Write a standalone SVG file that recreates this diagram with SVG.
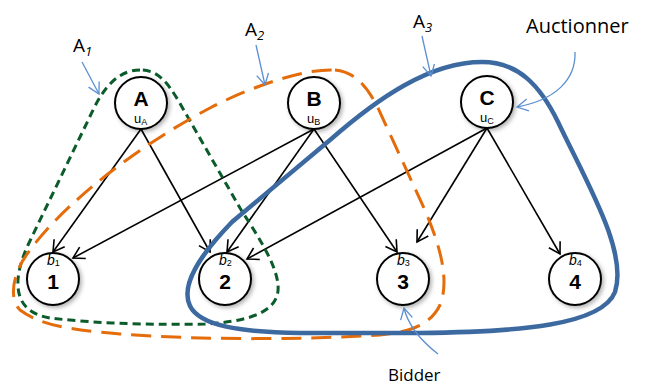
<svg xmlns="http://www.w3.org/2000/svg" width="647" height="386" viewBox="0 0 647 386">
<style>
.nc{fill:#fff;stroke:#000;stroke-width:2;filter:url(#sh)}
.big{font-family:"Liberation Sans",Arial,sans-serif;font-weight:bold;font-size:21px;text-anchor:middle}
.u{font-family:"Liberation Sans",Arial,sans-serif;font-size:13px}
.b{font-family:"Liberation Sans",Arial,sans-serif;font-style:italic;font-size:14px}
.sub{font-size:9px;font-style:normal}
.lbl{font-family:"Open Sans","Liberation Sans",sans-serif;fill:#000}
.edge{stroke:#000;stroke-width:1.6;fill:none;marker-end:url(#ah)}
.call{stroke:#5b8fd0;stroke-width:1.3;fill:none;marker-end:url(#bh)}
</style>
<defs>
<filter id="sh" x="-30%" y="-30%" width="160%" height="160%">
<feDropShadow dx="2" dy="2" stdDeviation="2" flood-color="#000" flood-opacity="0.3"/>
</filter>
<marker id="ah" markerWidth="16" markerHeight="16" refX="13" refY="8" orient="auto" markerUnits="userSpaceOnUse">
<path d="M2,1.5 L13,8 L2,14.5" fill="none" stroke="#000" stroke-width="1.6"/>
</marker>
<marker id="bh" markerWidth="16" markerHeight="16" refX="13" refY="8" orient="auto" markerUnits="userSpaceOnUse">
<path d="M2,2 L13,8 L2,14" fill="none" stroke="#5b8fd0" stroke-width="1.3"/>
</marker>
</defs>
<rect width="647" height="386" fill="#fff"/>

<g id="connectors">
<line class="edge" x1="141" y1="129" x2="53" y2="252"/>
<line class="edge" x1="141" y1="129" x2="210" y2="252"/>
<line class="edge" x1="314" y1="129" x2="73" y2="258"/>
<line class="edge" x1="314" y1="129" x2="227" y2="252"/>
<line class="edge" x1="314" y1="129" x2="397" y2="252"/>
<line class="edge" x1="487" y1="128" x2="247" y2="259"/>
<line class="edge" x1="487" y1="128" x2="417" y2="242"/>
<line class="edge" x1="487" y1="128" x2="560" y2="254"/>
</g>

<g id="A1">
<path d="M140,70 C118,70 104,88 94,108 L28,245 C12,280 12,312 50,318 C100,324 160,325 205,324 C262,321 280,306 278,285 C276,262 255,232 240,208 L178,100 C167,82 158,70 140,70 Z" fill="none" stroke="#0b5b2b" stroke-width="3" stroke-dasharray="8 5"/>
</g>
<g id="A2">
<path d="M335,70 C356,72 368,88 378,108 L424,208 C440,245 450,280 440,305 C430,326 408,332 380,335 C300,340 200,340 120,334 C70,330 40,325 20,310 C10,300 12,280 22,262 C50,215 130,150 210,108 C240,92 300,68 335,70 Z" fill="none" stroke="#e46c0a" stroke-width="3" stroke-dasharray="20 10"/>
</g>
<g id="A3">
<path d="M482,62 C518,62 540,85 558,122 C588,185 628,252 615,292 C602,325 520,332 420,333 L300,333 C240,332 200,326 190,306 C180,285 200,255 232,222 L330,140 C378,98 430,62 482,62 Z" fill="none" stroke="#3c6aa0" stroke-width="4.5"/>
</g>

<g id="nodeA">
<circle class="nc" cx="141" cy="103" r="26"/>
<text class="big" x="141" y="106">A</text>
<text class="u" x="134" y="123">u<tspan class="sub" dy="2">A</tspan></text>
</g>
<g id="nodeB">
<circle class="nc" cx="314" cy="103" r="26"/>
<text class="big" x="314" y="106">B</text>
<text class="u" x="307" y="123">u<tspan class="sub" dy="2">B</tspan></text>
</g>
<g id="nodeC">
<circle class="nc" cx="487" cy="102" r="26"/>
<text class="big" x="487" y="105">C</text>
<text class="u" x="480" y="122">u<tspan class="sub" dy="2">C</tspan></text>
</g>
<g id="node1">
<circle class="nc" cx="53" cy="279" r="26"/>
<text class="b" x="47" y="265">b<tspan class="sub" dy="1">1</tspan></text>
<text class="big" x="53" y="289">1</text>
</g>
<g id="node2">
<circle class="nc" cx="225" cy="279" r="26"/>
<text class="b" x="219" y="265">b<tspan class="sub" dy="1">2</tspan></text>
<text class="big" x="225" y="289">2</text>
</g>
<g id="node3">
<circle class="nc" cx="403" cy="279" r="26"/>
<text class="b" x="397" y="265">b<tspan class="sub" dy="1">3</tspan></text>
<text class="big" x="403" y="289">3</text>
</g>
<g id="node4">
<circle class="nc" cx="575" cy="279" r="26"/>
<text class="b" x="569" y="265">b<tspan class="sub" dy="1">4</tspan></text>
<text class="big" x="575" y="289">4</text>
</g>

<g id="labels">
<text class="lbl" x="73" y="52" style="font-size:19px">A<tspan style="font-size:13px;font-style:italic" dy="4">1</tspan></text>
<line class="call" x1="82" y1="62" x2="99" y2="94"/>
<text class="lbl" x="245" y="36" style="font-size:19px">A<tspan style="font-size:13px;font-style:italic" dy="4">2</tspan></text>
<line class="call" x1="256" y1="45" x2="265" y2="85"/>
<text class="lbl" x="413" y="28" style="font-size:19px">A<tspan style="font-size:13px;font-style:italic" dy="4">3</tspan></text>
<line class="call" x1="422" y1="36" x2="431" y2="76"/>
<text class="lbl" x="526" y="33" style="font-size:20px">Auctionner</text>
<path class="call" d="M575,52 C576,80 555,100 517,107"/>
<text class="lbl" x="388" y="381" style="font-size:17px">Bidder</text>
<path class="call" d="M438,354 C420,340 408,325 404,308"/>
</g>
</svg>
